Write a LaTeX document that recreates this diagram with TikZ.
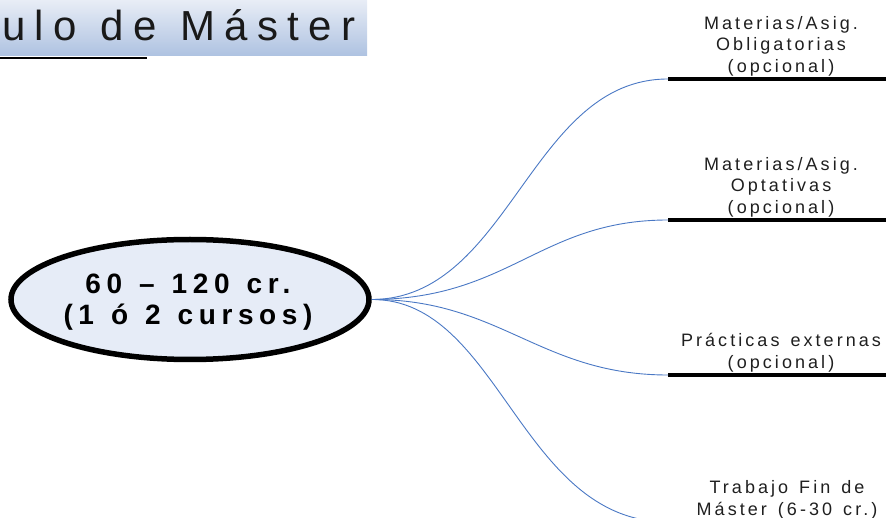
\documentclass[tikz,border=0pt]{standalone}
\usepackage{fontspec}
\setmainfont{Liberation Sans}
\newfontfamily\titlefont[LetterSpace=22]{Liberation Sans}
\newfontfamily\rootfont[LetterSpace=20]{Liberation Sans}
\newfontfamily\labfont[LetterSpace=17]{Liberation Sans}
\newcommand\tsp{\hspace{24pt}}
\newcommand\rsp{\hspace{17pt}}
\newcommand\lsp{\hspace{11pt}}
\usetikzlibrary{shapes.geometric}
\definecolor{branchblue}{HTML}{4A78C4}
\definecolor{rootfill}{HTML}{E6ECF7}
\definecolor{titletop}{HTML}{E8EDF6}
\definecolor{titlebot}{HTML}{AEC2E1}
\tikzset{
  rootnode/.style={ellipse,draw=black,line width=5.5pt,fill=rootfill,minimum width=358pt,minimum height=120pt,inner sep=0pt},
  roottext/.style={align=center,inner sep=0pt,font=\rootfont\bfseries\fontsize{28}{31}\selectfont},
  branch/.style={draw=branchblue,line width=0.9pt},
  bar/.style={draw=black,line width=4pt},
  labelnode/.style={align=center,anchor=south,inner sep=0pt,font=\labfont\fontsize{18}{21.5}\selectfont,text=black!88},
}
\begin{document}
\begin{tikzpicture}[x=1pt,y=-1pt]
\useasboundingbox (0,0) rectangle (886,518);
% title
\shade[top color=titletop,bottom color=titlebot] (0,0) rectangle (367,56);
\node[anchor=base west,inner sep=0pt,font=\titlefont\fontsize{42}{46}\selectfont,text=black!90] (title) at (2,41) {ulo\tsp de\tsp Máster};
\coordinate (ul1) at (0,58);
\coordinate (ul2) at (147,58);
\draw[line width=2.5pt] (ul1) -- (ul2);
% root
\node[rootnode] (root) at (190,299.5) {};
\node[roottext] (roottxt) at (188,302.5) {60\rsp–\rsp120\rsp cr.\\(1\rsp ó\rsp 2\rsp cursos)};
% bar ends
\coordinate (b1s) at (668,79);  \coordinate (b1e) at (890,79);
\coordinate (b2s) at (668,220); \coordinate (b2e) at (890,220);
\coordinate (b3s) at (668,375); \coordinate (b3e) at (890,375);
\coordinate (b4s) at (668,522); \coordinate (b4e) at (890,522);
\draw[bar] (b1s) -- (b1e);
\draw[bar] (b2s) -- (b2e);
\draw[bar] (b3s) -- (b3e);
\draw[bar] (b4s) -- (b4e);
% branches
\draw[branch] (root.east) .. controls (510,299) and (530,79) .. (b1s);
\draw[branch] (root.east) .. controls (510,299) and (540,220) .. (b2s);
\draw[branch] (root.east) .. controls (500,299) and (540,375) .. (b3s);
\draw[branch] (root.east) .. controls (500,299) and (520,522) .. (b4s);
% labels
\node[labelnode] (lab1) at (781,76) {Materias/Asig.\\Obligatorias\\(opcional)};
\node[labelnode] (lab2) at (781,217) {Materias/Asig.\\Optativas\\(opcional)};
\node[labelnode] (lab3) at (781,372) {Prácticas\lsp externas\\(opcional)};
\node[labelnode] (lab4) at (787,519) {Trabajo\lsp Fin\lsp de\\Máster\lsp (6-30\lsp cr.)};
\end{tikzpicture}
\end{document}
